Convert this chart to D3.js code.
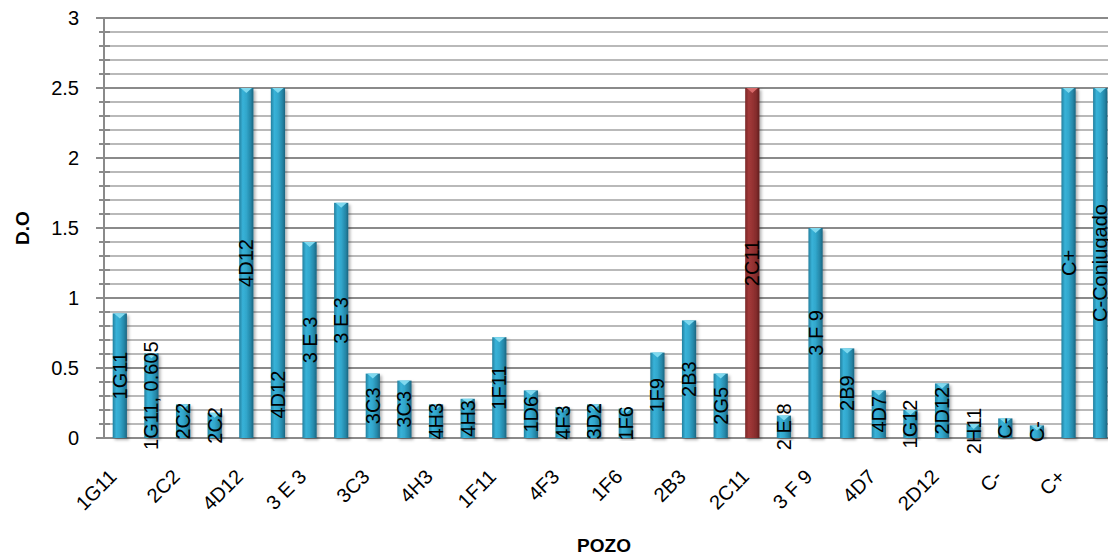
<!DOCTYPE html>
<html><head><meta charset="utf-8">
<script src="https://cdn.jsdelivr.net/npm/d3@7"></script>
<style>body{margin:0;background:#fff}svg{display:block}</style>
</head><body>
<script>
const categories = ["1G11","1G11","2C2","2C2","4D12","4D12","3 E 3","3 E 3","3C3","3C3","4H3","4H3","1F11","1D6","4F3","3D2","1F6","1F9","2B3","2G5","2C11","2 E 8","3 F 9","2B9","4D7","1G12","2D12","2H11","C-","C-","C+","C-Conjugado"];
const values = [0.89,0.605,0.24,0.18,2.5,2.5,1.4,1.68,0.46,0.41,0.24,0.28,0.72,0.34,0.22,0.24,0.21,0.61,0.84,0.46,2.5,0.16,1.5,0.64,0.34,0.2,0.39,0.1,0.14,0.09,2.5,2.5];
const dataLabels = ["1G11","1G11, 0.605","2C2","2C2","4D12","4D12","3 E 3","3 E 3","3C3","3C3","4H3","4H3","1F11","1D6","4F3","3D2","1F6","1F9","2B3","2G5","2C11","2 E 8","3 F 9","2B9","4D7","1G12","2D12","2H11","C-","C-","C+","C-Conjugado"];
const highlighted = ["2C11"];
const yTicks = [0,0.5,1,1.5,2,2.5,3];
const yMinor = d3.range(0,3.0001,0.1).map(v=>+v.toFixed(1));
const labelCenterOverride = {5: 0.31};

const W=1108,H=558;
const m={left:104,top:18,right:-8,bottom:120};
const svg=d3.select("body").append("svg").attr("width",W).attr("height",H);
const x=d3.scaleBand().domain(d3.range(categories.length)).range([m.left,W-m.right]).paddingInner(0.55).paddingOuter(0.275);
const y=d3.scaleLinear().domain([0,3]).range([438,18]);

const defs=svg.append("defs");
function grad(id,stops){const g=defs.append("linearGradient").attr("id",id).attr("x1","0").attr("x2","1").attr("y1","0").attr("y2","0");
 stops.forEach(s=>g.append("stop").attr("offset",s[0]).attr("stop-color",s[1]));}
grad("gb",[["0%","#23809f"],["25%","#38b2d8"],["50%","#32a7cc"],["80%","#2587a8"],["100%","#1b6580"]]);
grad("gr",[["0%","#7a2626"],["25%","#a23a3a"],["50%","#973333"],["80%","#822b2b"],["100%","#5e1c1c"]]);
const f=defs.append("filter").attr("id","sh").attr("x","-50%").attr("y","-10%").attr("width","200%").attr("height","120%");
f.append("feDropShadow").attr("dx",2).attr("dy",2).attr("stdDeviation",1.5).attr("flood-color","#000").attr("flood-opacity",0.3);

// gridlines
const g=svg.append("g");
yMinor.forEach(v=>{
  const major=Math.abs(v*2-Math.round(v*2))<1e-6;
  g.append("line").attr("x1",m.left).attr("x2",W).attr("y1",y(v)).attr("y2",y(v))
   .attr("stroke",major?"#8a8a8a":"#b9b9b9").attr("stroke-width",2);
  g.append("line").attr("x1",major?96:99).attr("x2",major?m.left:110).attr("y1",y(v)).attr("y2",y(v))
   .attr("stroke","#8a8a8a").attr("stroke-width",2);
});
g.append("line").attr("x1",m.left).attr("x2",m.left).attr("y1",y(3)).attr("y2",y(0)).attr("stroke","#8a8a8a").attr("stroke-width",2);

// y labels
svg.append("g").selectAll("text").data(yTicks).join("text")
 .attr("x",79).attr("y",d=>y(d)+7).attr("text-anchor","end")
 .attr("font-family","Liberation Sans, Arial, sans-serif").attr("font-size",20).attr("fill","#000")
 .text(d=>d);

// bars
const bw=x.bandwidth();
const bars=svg.append("g");
values.forEach((v,i)=>{
  const red=highlighted.includes(categories[i]);
  const bx=x(i);
  bars.append("rect").attr("x",bx).attr("y",y(v)).attr("width",bw).attr("height",y(0)-y(v))
   .attr("fill",red?"url(#gr)":"url(#gb)").attr("filter","url(#sh)");
  bars.append("path").attr("d",`M${bx+1.5},${y(v)}L${bx+bw-1.5},${y(v)}L${bx+bw/2},${y(v)+5}Z`)
   .attr("fill",red?"#d86a6a":"#7fd9ef");
});

// data labels
svg.append("g").selectAll("text").data(values).join("text")
 .attr("transform",(d,i)=>{const c=labelCenterOverride[i]!==undefined?labelCenterOverride[i]:d/2;return `translate(${x(i)+bw/2+7},${y(c)}) rotate(-90)`;})
 .attr("text-anchor","middle")
 .attr("font-family","Liberation Sans, Arial, sans-serif").attr("font-size",20).attr("fill","#000")
 .text((d,i)=>dataLabels[i]);

// x tick labels (every other category)
svg.append("g").selectAll("text").data(categories.map((c,i)=>({c,i})).filter(d=>d.i%2===0)).join("text")
 .attr("transform",d=>`translate(${x(d.i)+bw/2-2},${478}) rotate(-45)`)
 .attr("text-anchor","end")
 .attr("font-family","Liberation Sans, Arial, sans-serif").attr("font-size",20).attr("fill","#000")
 .text(d=>d.c);

svg.append("text").attr("x",604).attr("y",552).attr("text-anchor","middle")
 .attr("font-family","Liberation Sans, Arial, sans-serif").attr("font-size",19).attr("font-weight","bold").text("POZO");
svg.append("text").attr("transform","translate(29,228) rotate(-90)").attr("text-anchor","middle")
 .attr("font-family","Liberation Sans, Arial, sans-serif").attr("font-size",19).attr("font-weight","bold").text("D.O");
</script>
</body></html>
